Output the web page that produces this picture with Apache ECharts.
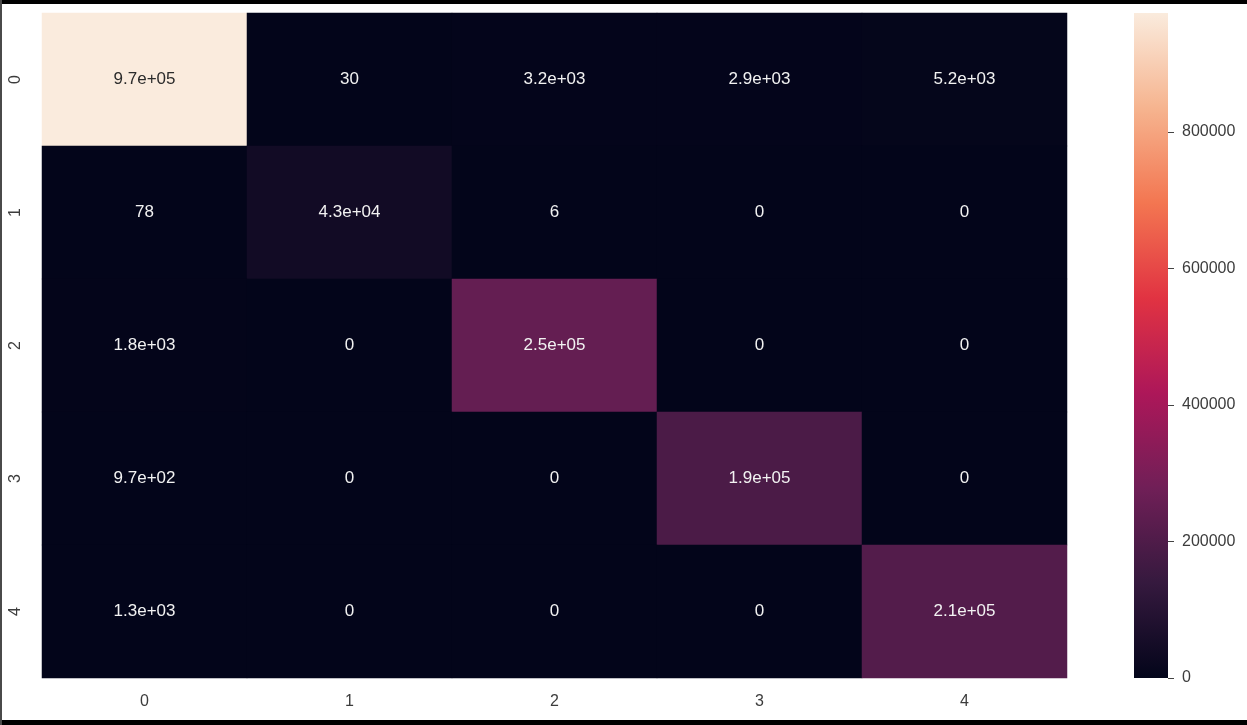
<!DOCTYPE html>
<html>
<head>
    <meta charset="UTF-8">
    <title>Confusion matrix</title>
    <script src="https://cdn.jsdelivr.net/npm/echarts@6/dist/echarts.min.js"></script>
    <style>
        body { margin: 0; background: #fff; }
        #chart { position: absolute; left: 0; top: 0; width: 1247px; height: 725px; }
        .band { position: absolute; background: #000; }
    </style>
</head>
<body>
    <div id="chart"></div>
    <div class="band" style="left:0;top:0;width:1247px;height:4px;"></div>
    <div class="band" style="left:0;top:720px;width:1247px;height:5px;"></div>
    <div class="band" style="left:0;top:0;width:2px;height:725px;background:#4a4a4a;"></div>

    <script>
        // confusion matrix, rows = true label, cols = predicted
        const xLabels = ['0', '1', '2', '3', '4'];
        const yLabels = ['0', '1', '2', '3', '4'];
        const row0 = [974000, 30, 3200, 2900, 5200];
        const row1 = [78, 43000, 6, 0, 0];
        const row2 = [1800, 0, 250000, 0, 0];
        const row3 = [970, 0, 0, 190000, 0];
        const row4 = [1300, 0, 0, 0, 210000];
        const colorTicks = [0, 200000, 400000, 600000, 800000];
        // seaborn "rocket"
        const rocket = ['#03051a', '#35193e', '#701f57', '#ad1759', '#e13342', '#f37651', '#f6b48f', '#faebdd'];

        const rows = [row0, row1, row2, row3, row4];
        const vmax = Math.max(...rows.flat());

        // python style '%.2g'
        function fmt2g(v) {
            if (v === 0) return '0';
            const e = Math.floor(Math.log10(Math.abs(v)));
            if (e < -4 || e >= 2) {
                let [m, ex] = v.toExponential(1).split('e');
                let digits = ex.slice(1);
                if (digits.length < 2) digits = '0' + digits;
                return m + 'e' + ex[0] + digits;
            }
            let s = v.toPrecision(2);
            if (s.indexOf('.') >= 0) s = s.replace(/0+$/, '').replace(/\.$/, '');
            return s;
        }

        const cells = [];
        rows.forEach((r, yi) => {
            r.forEach((v, xi) => {
                cells.push({
                    value: [xi, yi, v],
                    label: { color: v / vmax > 0.5 ? '#2b2b2b' : '#f2f2f2' }
                });
            });
        });

        const font = 'Liberation Sans, Arial, sans-serif';
        const tickColor = '#3c3c3c';

        const chart = echarts.init(document.getElementById('chart'));
        chart.setOption({
            backgroundColor: '#fff',
            animation: false,
            grid: [
                { left: 42, top: 13, width: 1025, height: 665 },
                { left: 1134, top: 13, width: 34, height: 665 }
            ],
            xAxis: [
                {
                    type: 'category', data: xLabels, gridIndex: 0, position: 'bottom',
                    axisLine: { show: false }, axisTick: { show: false }, splitArea: { show: false },
                    axisLabel: { color: tickColor, fontSize: 16, fontFamily: font, margin: 16 }
                },
                { type: 'category', data: [''], gridIndex: 1, show: false }
            ],
            yAxis: [
                {
                    type: 'category', data: yLabels, gridIndex: 0, inverse: true,
                    axisLine: { show: false }, axisTick: { show: false },
                    axisLabel: { color: tickColor, fontSize: 16, fontFamily: font, rotate: 90, margin: 18 }
                },
                {
                    type: 'value', gridIndex: 1, position: 'right', min: 0, max: vmax,
                    splitLine: { show: false },
                    axisLine: { show: false },
                    axisTick: { show: true, length: 6, lineStyle: { color: '#444' }, customValues: colorTicks },
                    axisLabel: {
                        color: tickColor, fontSize: 16, fontFamily: font, margin: 14,
                        customValues: colorTicks, formatter: v => String(v)
                    }
                }
            ],
            visualMap: {
                show: false, seriesIndex: 0, min: 0, max: vmax, dimension: 2,
                inRange: { color: rocket }
            },
            series: [
                {
                    type: 'heatmap', xAxisIndex: 0, yAxisIndex: 0,
                    data: cells,
                    itemStyle: { borderWidth: 0 },
                    label: {
                        show: true, fontSize: 17, fontFamily: font,
                        formatter: p => fmt2g(p.value[2])
                    },
                    emphasis: { disabled: true }
                },
                {
                    type: 'bar', xAxisIndex: 1, yAxisIndex: 1,
                    data: [vmax], barWidth: '100%',
                    itemStyle: {
                        color: new echarts.graphic.LinearGradient(0, 0, 0, 1,
                            rocket.slice().reverse().map((c, i) => ({ offset: i / (rocket.length - 1), color: c })))
                    },
                    silent: true
                }
            ]
        });
    </script>
</body>
</html>
